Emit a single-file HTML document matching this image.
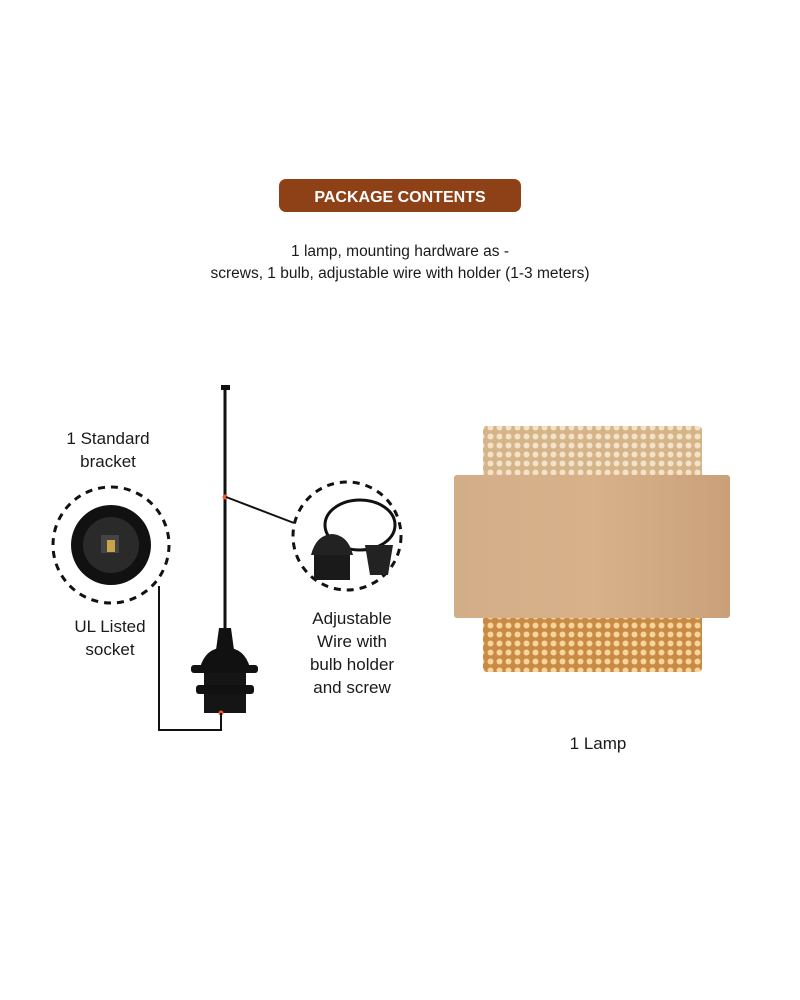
<!DOCTYPE html>
<html><head><meta charset="utf-8"><style>
html,body{margin:0;padding:0;background:#fff;width:800px;height:1000px;overflow:hidden}
svg{display:block}
text{font-family:"Liberation Sans",sans-serif;fill:#1a1a1a}
</style></head><body>
<svg width="800" height="1000" viewBox="0 0 800 1000">
<defs>
<pattern id="cane" width="9" height="9" patternUnits="userSpaceOnUse">
<rect width="9" height="9" fill="#c98a45"/>
<circle cx="4.5" cy="4.5" r="3" fill="#f6d59a"/>
</pattern>
<pattern id="cane2" width="9" height="9" patternUnits="userSpaceOnUse">
<rect width="9" height="9" fill="#d6b48a"/>
<circle cx="4.5" cy="4.5" r="3" fill="#f3e2c8"/>
</pattern>
<linearGradient id="fab" x1="0" x2="1">
<stop offset="0" stop-color="#d2ae88"/><stop offset="0.5" stop-color="#d8b18a"/><stop offset="1" stop-color="#c9a07a"/>
</linearGradient>
</defs>
<rect x="279" y="179" width="242" height="33" rx="7" fill="#8e4116"/>
<text x="400" y="202" text-anchor="middle" font-size="16" font-weight="bold" style="fill:#fff">PACKAGE CONTENTS</text>
<text x="400" y="256" text-anchor="middle" font-size="15.5">1 lamp, mounting hardware as -</text>
<text x="400" y="278" text-anchor="middle" font-size="15.5">screws, 1 bulb, adjustable wire with holder (1-3 meters)</text>

<rect x="221" y="385" width="9" height="5" fill="#111"/>
<line x1="225" y1="388" x2="225" y2="630" stroke="#111" stroke-width="3"/>
<circle cx="225" cy="497" r="2.5" fill="#f05a28"/>
<line x1="226" y1="497" x2="294" y2="523" stroke="#111" stroke-width="2"/>
<path d="M219 628 L231 628 L234 650 L216 650Z" fill="#111"/>
<path d="M200 668 Q205 648 225 647 Q245 648 250 668Z" fill="#111"/>
<rect x="191" y="665" width="67" height="8" rx="3" fill="#111"/>
<rect x="204" y="673" width="42" height="40" fill="#151515"/>
<rect x="196" y="685" width="58" height="9" rx="3" fill="#111"/>
<circle cx="221" cy="713" r="2.5" fill="#f05a28"/>
<polyline points="159,586 159,730 221,730 221,713" fill="none" stroke="#111" stroke-width="2"/>

<circle cx="111" cy="545" r="58" fill="none" stroke="#111" stroke-width="3" stroke-dasharray="7 6"/>
<circle cx="111" cy="545" r="40" fill="#111"/>
<circle cx="111" cy="545" r="28" fill="#2a2a2a"/>
<rect x="101" y="535" width="18" height="18" fill="#444"/>
<rect x="107" y="540" width="8" height="12" fill="#c9a54a"/>

<circle cx="347" cy="536" r="54" fill="none" stroke="#111" stroke-width="3" stroke-dasharray="7 6"/>
<ellipse cx="360" cy="525" rx="35" ry="25" fill="none" stroke="#111" stroke-width="3"/>
<path d="M311 555 Q316 535 332 534 Q348 535 353 555Z" fill="#222"/>
<rect x="314" y="555" width="36" height="25" fill="#1a1a1a"/>
<path d="M365 545 L393 545 L388 575 L370 575Z" fill="#222"/>

<text x="108" y="444" text-anchor="middle" font-size="17">1 Standard</text>
<text x="108" y="467" text-anchor="middle" font-size="17">bracket</text>
<text x="110" y="632" text-anchor="middle" font-size="17">UL Listed</text>
<text x="110" y="655" text-anchor="middle" font-size="17">socket</text>
<text x="352" y="624" text-anchor="middle" font-size="17">Adjustable</text>
<text x="352" y="647" text-anchor="middle" font-size="17">Wire with</text>
<text x="352" y="670" text-anchor="middle" font-size="17">bulb holder</text>
<text x="352" y="693" text-anchor="middle" font-size="17">and screw</text>

<rect x="483" y="426" width="219" height="54" rx="4" fill="url(#cane2)"/>
<rect x="483" y="612" width="219" height="60" rx="4" fill="url(#cane)"/>
<rect x="454" y="475" width="276" height="143" rx="3" fill="url(#fab)"/>
<text x="598" y="749" text-anchor="middle" font-size="17">1 Lamp</text>
</svg>
</body></html>
